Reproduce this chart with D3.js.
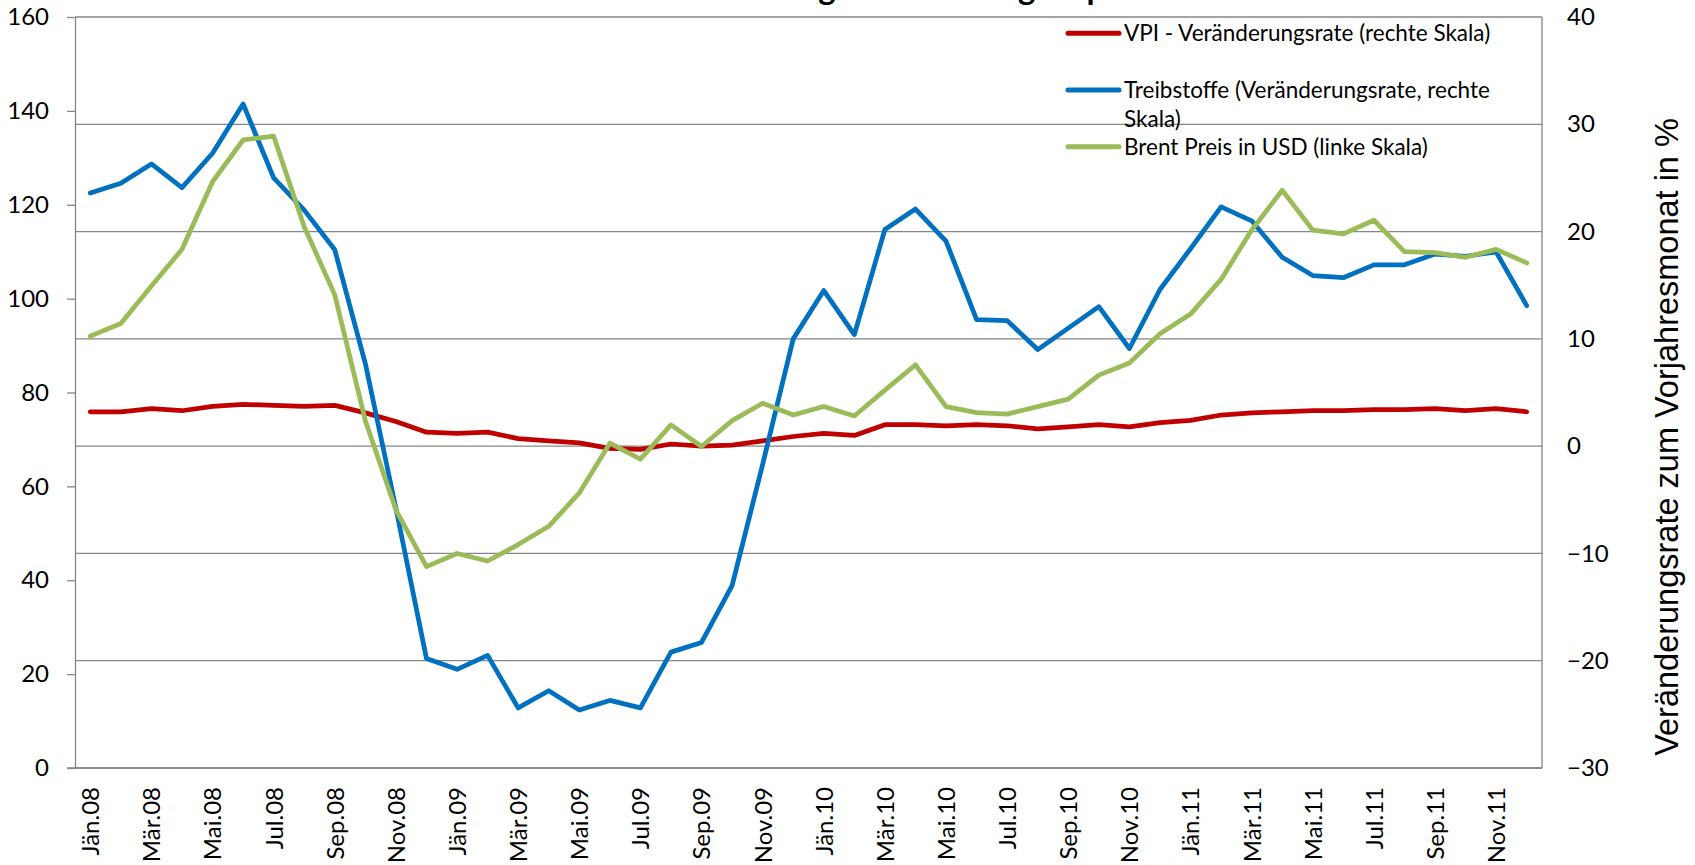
<!DOCTYPE html>
<html>
<head>
<meta charset="utf-8">
<script src="https://cdn.jsdelivr.net/npm/d3@7"></script>
<style>
    body { margin: 0; background: #fff; }
    svg { display: block; }
</style>
</head>
<body>
<svg width="1695" height="865"></svg>
<script>
const categories = [
    "Jän.08", "Feb.08", "Mär.08", "Apr.08", "Mai.08", "Jun.08", "Jul.08", "Aug.08", "Sep.08", "Okt.08", "Nov.08", "Dez.08",
    "Jän.09", "Feb.09", "Mär.09", "Apr.09", "Mai.09", "Jun.09", "Jul.09", "Aug.09", "Sep.09", "Okt.09", "Nov.09", "Dez.09",
    "Jän.10", "Feb.10", "Mär.10", "Apr.10", "Mai.10", "Jun.10", "Jul.10", "Aug.10", "Sep.10", "Okt.10", "Nov.10", "Dez.10",
    "Jän.11", "Feb.11", "Mär.11", "Apr.11", "Mai.11", "Jun.11", "Jul.11", "Aug.11", "Sep.11", "Okt.11", "Nov.11", "Dez.11",
];
// VPI - Veränderungsrate (rechte Skala)
const vpi = [
    3.2, 3.2, 3.5, 3.3, 3.7, 3.9, 3.8, 3.7, 3.8, 3.1, 2.3, 1.3,
    1.2, 1.3, 0.7, 0.5, 0.3, -0.2, -0.3, 0.2, 0.0, 0.1, 0.5, 0.9,
    1.2, 1.0, 2.0, 2.0, 1.9, 2.0, 1.9, 1.6, 1.8, 2.0, 1.8, 2.2,
    2.4, 2.9, 3.1, 3.2, 3.3, 3.3, 3.4, 3.4, 3.5, 3.3, 3.5, 3.2,
];
// Treibstoffe (rechte Skala)
const treibstoffe = [
    23.6, 24.5, 26.3, 24.1, 27.3, 31.9, 25.0, 22.0, 18.3, 7.7, -5.8, -19.8,
    -20.8, -19.5, -24.4, -22.8, -24.6, -23.7, -24.4, -19.2, -18.3, -13.0, -1.7, 10.0,
    14.5, 10.4, 20.2, 22.1, 19.1, 11.8, 11.7, 9.0, 11.0, 13.0, 9.1, 14.6,
    18.4, 22.3, 21.0, 17.6, 15.9, 15.7, 16.9, 16.9, 17.9, 17.7, 18.1, 13.1,
];
// Brent Preis in USD (linke Skala)
const brent = [
    92.0, 94.7, 102.7, 110.5, 124.9, 133.8, 134.6, 115.3, 100.8, 74.0, 55.0, 42.9,
    45.7, 44.1, 47.6, 51.5, 58.6, 69.2, 65.8, 73.1, 68.5, 74.0, 77.7, 75.2,
    77.0, 75.0, 80.5, 85.9, 77.0, 75.7, 75.4, 77.0, 78.6, 83.7, 86.3, 92.5,
    96.7, 104.1, 114.6, 123.1, 114.6, 113.8, 116.7, 110.0, 109.8, 108.8, 110.5, 107.6,
];
const leftTicks = [0, 20, 40, 60, 80, 100, 120, 140, 160];
const rightTicks = [-30, -20, -10, 0, 10, 20, 30, 40];
const xTickLabels = categories.filter((d, i) => i % 2 === 0);
const titleText = "Entwicklung der Teuerung: Ölpreis und Treibstoffe";
const yAxisTitle = "Veränderungsrate zum Vorjahresmonat in %";
const legendLabels = [
    ["VPI - Veränderungsrate (rechte Skala)"],
    ["Treibstoffe (Veränderungsrate, rechte", "Skala)"],
    ["Brent Preis in USD (linke Skala)"],
];

const colors = ["#C00000", "#0070C0", "#9BBB59"];
const gridColor = "#868686";

const svg = d3.select("svg");
const plot = { left: 75, right: 1542, top: 17, bottom: 768 };

const xScale = d3.scalePoint()
    .domain(categories)
    .range([plot.left, plot.right])
    .padding(0.5);
const yLeft = d3.scaleLinear()
    .domain([0, 160])
    .range([plot.bottom, plot.top]);
const yRight = d3.scaleLinear()
    .domain([-30, 40])
    .range([plot.bottom, plot.top]);

// Titel (oben abgeschnitten)
const title = svg.append("text")
    .attr("x", 0)
    .attr("y", 0)
    .attr("font-family", "Lato, sans-serif")
    .attr("font-weight", "bold")
    .attr("font-size", 33)
    .attr("fill", "#000")
    .text(titleText);
const gExt = title.node().getExtentOfChar(titleText.indexOf("g"));
title.attr("x", 827 - (gExt.x + gExt.width / 2));

// Gitternetz (rechte Skala)
svg.append("g")
    .selectAll("line")
    .data(rightTicks)
    .join("line")
    .attr("x1", plot.left)
    .attr("x2", plot.right)
    .attr("y1", d => yRight(d))
    .attr("y2", d => yRight(d))
    .attr("stroke", gridColor)
    .attr("stroke-width", 1.3);

// rechter Rand
svg.append("line")
    .attr("x1", plot.right).attr("x2", plot.right)
    .attr("y1", plot.top).attr("y2", plot.bottom)
    .attr("stroke", gridColor)
    .attr("stroke-width", 1.3);

// linke Achse
const gLeft = svg.append("g")
    .attr("transform", `translate(${plot.left},0)`)
    .call(d3.axisLeft(yLeft).tickValues(leftTicks).tickSize(8).tickPadding(18).tickSizeOuter(0));
gLeft.select(".domain").attr("stroke", gridColor).attr("stroke-width", 1.3);
gLeft.selectAll(".tick line").attr("stroke", gridColor).attr("stroke-width", 1.3);
gLeft.selectAll(".tick text")
    .attr("font-family", "Lato, sans-serif")
    .attr("font-size", 24)
    .attr("fill", "#000");

// rechte Achse
const gRight = svg.append("g")
    .attr("transform", `translate(${plot.right},0)`)
    .call(d3.axisRight(yRight).tickValues(rightTicks).tickSize(0).tickPadding(25));
gRight.select(".domain").remove();
gRight.selectAll(".tick text")
    .attr("font-family", "Lato, sans-serif")
    .attr("font-size", 24)
    .attr("fill", "#000");

// x-Achse
const gX = svg.append("g")
    .attr("transform", `translate(0,${plot.bottom})`)
    .call(d3.axisBottom(xScale).tickValues(xTickLabels).tickSize(0).tickSizeOuter(0));
gX.select(".domain").remove();
gX.selectAll(".tick text")
    .attr("transform", "rotate(-90)")
    .attr("x", -19)
    .attr("y", 0)
    .attr("dy", "0.35em")
    .attr("text-anchor", "end")
    .attr("font-family", "Lato, sans-serif")
    .attr("font-size", 24)
    .attr("fill", "#000");
svg.append("line")
    .attr("x1", plot.left - 8).attr("x2", plot.right)
    .attr("y1", plot.bottom).attr("y2", plot.bottom)
    .attr("stroke", gridColor)
    .attr("stroke-width", 1.3);

// Achsentitel rechts
svg.append("text")
    .attr("transform", "translate(1678,437) rotate(-90)")
    .attr("text-anchor", "middle")
    .attr("font-family", "'Liberation Sans', Arial, sans-serif")
    .attr("font-size", 32.5)
    .attr("fill", "#000")
    .text(yAxisTitle);

// Linien
const lineRight = d3.line()
    .x((d, i) => xScale(categories[i]))
    .y(d => yRight(d));
const lineLeft = d3.line()
    .x((d, i) => xScale(categories[i]))
    .y(d => yLeft(d));

const series = [
    { values: vpi, line: lineRight },
    { values: treibstoffe, line: lineRight },
    { values: brent, line: lineLeft },
];
svg.append("g")
    .selectAll("path")
    .data(series)
    .join("path")
    .attr("d", d => d.line(d.values))
    .attr("fill", "none")
    .attr("stroke", (d, i) => colors[i])
    .attr("stroke-width", 4.75)
    .attr("stroke-linejoin", "round")
    .attr("stroke-linecap", "round");

// Legende
const legendRows = [33.3, 90, 146.7];
const legend = svg.append("g");
legendLabels.forEach((lines, i) => {
    legend.append("line")
        .attr("x1", 1068).attr("x2", 1119)
        .attr("y1", legendRows[i]).attr("y2", legendRows[i])
        .attr("stroke", colors[i])
        .attr("stroke-width", 5)
        .attr("stroke-linecap", "round");
    const t = legend.append("text")
        .attr("x", 1124)
        .attr("y", legendRows[i] + 7.8)
        .attr("font-family", "Lato, sans-serif")
        .attr("font-size", 22.5)
        .attr("fill", "#000");
    lines.forEach((s, j) => {
        t.append("tspan")
            .attr("x", 1124)
            .attr("dy", j === 0 ? 0 : 29.4)
            .text(s);
    });
});
</script>
</body>
</html>
